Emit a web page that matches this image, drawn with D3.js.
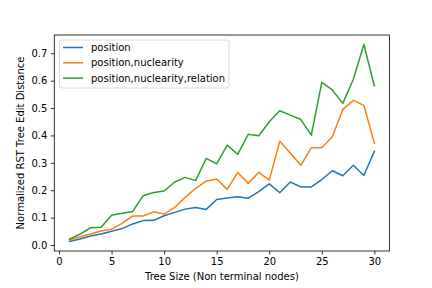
<!DOCTYPE html>
<html lang="en">
<head>
<meta charset="utf-8">
<title>RST tree edit distance</title>
<style>
  body { margin: 0; background: #fff; }
  svg { display: block; font-family: 'DejaVu Sans', sans-serif; }
</style>
</head>
<body>
<div id="chart"></div>
<script src="https://d3js.org/d3.v7.min.js"></script>
<script>
// tree sizes 1..30
var treeSize = [1,2,3,4,5,6,7,8,9,10,11,12,13,14,15,16,17,18,19,20,21,22,23,24,25,26,27,28,29,30];

var position = [0.013,0.022,0.033,0.040,0.050,0.060,0.077,0.089,0.090,0.107,
                0.119,0.131,0.137,0.130,0.166,0.172,0.176,0.171,0.195,0.223,
                0.191,0.230,0.212,0.212,0.239,0.271,0.253,0.291,0.254,0.342];

var positionNuc = [0.018,0.030,0.040,0.051,0.058,0.079,0.106,0.106,0.121,0.113,
                   0.137,0.174,0.207,0.233,0.241,0.203,0.265,0.225,0.266,0.237,
                   0.379,0.336,0.291,0.355,0.355,0.395,0.495,0.528,0.510,0.372];

var positionNucRel = [0.021,0.040,0.063,0.065,0.109,0.116,0.122,0.180,0.192,0.197,
                      0.230,0.247,0.235,0.316,0.296,0.365,0.331,0.404,0.399,0.450,
                      0.490,0.474,0.458,0.401,0.594,0.566,0.517,0.605,0.732,0.581];

var seriesNames = ["position", "position,nuclearity", "position,nuclearity,relation"];
var seriesColors = ["#1f77b4", "#ff7f0e", "#2ca02c"];
var xTicks = [0, 5, 10, 15, 20, 25, 30];
var yTicks = [0.0, 0.1, 0.2, 0.3, 0.4, 0.5, 0.6, 0.7];

var width = 432, height = 288;
var plotLeft = 54.3, plotRight = 389.6, plotTop = 35, plotBottom = 251;

var svg = d3.select("#chart").append("svg")
    .attr("width", width)
    .attr("height", height);

var x = d3.scaleLinear().domain([-0.45, 31.45]).range([plotLeft, plotRight]);
var y = d3.scaleLinear().domain([-0.0219, 0.7667]).range([plotBottom, plotTop]);

// axes
var xAxis = svg.append("g")
    .attr("transform", "translate(0," + plotBottom + ")")
    .call(d3.axisBottom(x).tickValues(xTicks).tickSize(3.5).tickPadding(3.5).tickFormat(d3.format("d")));
var yAxis = svg.append("g")
    .attr("transform", "translate(" + plotLeft + ",0)")
    .call(d3.axisLeft(y).tickValues(yTicks).tickSize(3.5).tickPadding(3.5).tickFormat(d3.format(".1f")));

[xAxis, yAxis].forEach(function(a) {
    a.select(".domain").remove();
    a.selectAll("line").attr("stroke", "#000").attr("stroke-width", 0.8);
    a.selectAll("text").attr("font-size", 10).attr("fill", "#000")
        .attr("font-family", "'DejaVu Sans', sans-serif");
});

// lines
var data = [position, positionNuc, positionNucRel];
var line = d3.line()
    .x(function(d, i) { return x(treeSize[i]); })
    .y(function(d) { return y(d); });

svg.selectAll(".series")
    .data(data)
    .enter()
    .append("path")
    .attr("class", "series")
    .attr("d", line)
    .attr("fill", "none")
    .attr("stroke", function(d, i) { return seriesColors[i]; })
    .attr("stroke-width", 1.5)
    .attr("stroke-linejoin", "round")
    .attr("stroke-linecap", "square");

// frame
svg.append("rect")
    .attr("x", plotLeft)
    .attr("y", plotTop)
    .attr("width", plotRight - plotLeft)
    .attr("height", plotBottom - plotTop)
    .attr("fill", "none")
    .attr("stroke", "#000")
    .attr("stroke-width", 0.8);

// legend
var legend = svg.append("g");
legend.append("rect")
    .attr("x", 59.5)
    .attr("y", 40)
    .attr("width", 169.5)
    .attr("height", 48)
    .attr("rx", 2.5)
    .attr("fill", "#fff")
    .attr("fill-opacity", 0.8)
    .attr("stroke", "#d0d0d0")
    .attr("stroke-width", 0.8);

var rows = legend.selectAll(".row")
    .data(seriesNames)
    .enter()
    .append("g")
    .attr("transform", function(d, i) { return "translate(0," + (47.5 + i * 15.3) + ")"; });
rows.append("line")
    .attr("x1", 63).attr("x2", 83)
    .attr("y1", 0).attr("y2", 0)
    .attr("stroke", function(d, i) { return seriesColors[i]; })
    .attr("stroke-width", 1.5);
rows.append("text")
    .attr("x", 91)
    .attr("y", 3.5)
    .attr("font-size", 10)
    .text(function(d) { return d; });

// axis labels
svg.append("text")
    .attr("x", (plotLeft + plotRight) / 2)
    .attr("y", 280)
    .attr("text-anchor", "middle")
    .attr("font-size", 10)
    .text("Tree Size (Non terminal nodes)");

svg.append("text")
    .attr("transform", "translate(24," + ((plotTop + plotBottom) / 2) + ") rotate(-90)")
    .attr("text-anchor", "middle")
    .attr("font-size", 10)
    .text("Normalized RST Tree Edit Distance");
</script>
</body>
</html>
